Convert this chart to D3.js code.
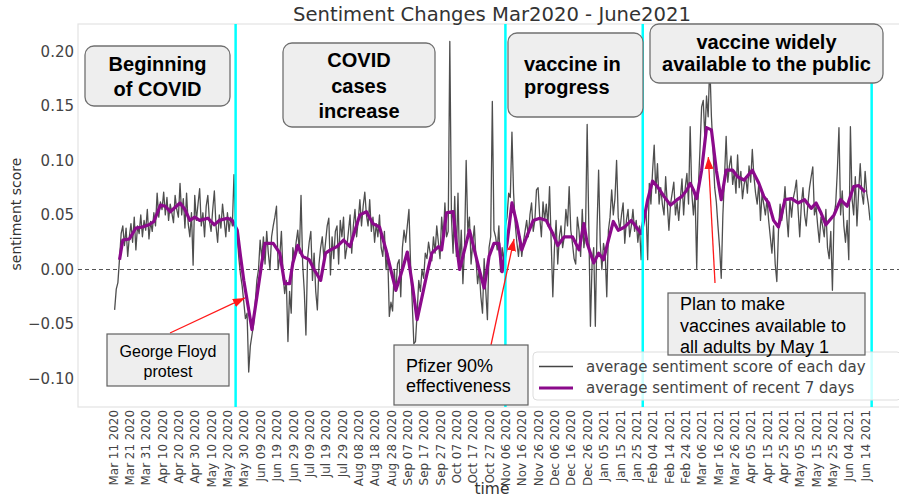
<!DOCTYPE html>
<head>
  <meta charset="utf-8">
  <style>
    body { margin: 0; background: #fff; }
    .axis path, .axis line { display: none; }
    .axis text { font-family: "DejaVu Sans", sans-serif; fill: #444; }
    .box-text { font-family: "Liberation Sans", Arial, sans-serif; fill: #000; }
  </style>
  <script src="https://cdn.jsdelivr.net/npm/d3@7"></script>
</head>
<body>
<script>
  // day 0 = Mar 11 2020, the daily series starts on day 1
  const originDay = '2020-03-11';
  const firstDay = 1;

  const dailyScore = [
    -0.037,-0.018,-0.012,0.010,0.033,0.040,0.022,0.038,0.012,0.030,
    0.042,0.025,0.048,0.018,0.040,0.033,0.050,0.030,0.045,0.036,
    0.055,0.028,0.044,0.035,0.052,0.040,0.070,0.048,0.062,0.055,
    0.071,0.050,0.066,0.045,0.060,0.052,0.043,0.068,0.055,0.048,
    0.079,0.050,0.065,0.038,0.070,0.042,0.030,0.052,0.004,0.068,
    0.045,0.060,0.074,0.040,0.052,0.030,0.058,0.068,0.044,0.035,
    0.055,0.072,0.040,0.025,0.050,0.038,0.060,0.045,0.030,0.052,
    0.035,0.048,0.040,0.087,0.035,0.030,0.010,-0.005,-0.015,-0.030,
    -0.045,-0.040,-0.094,-0.070,-0.060,-0.050,-0.030,-0.010,0.000,0.027,
    0.010,0.030,0.005,0.035,0.015,0.000,0.030,0.040,0.048,0.058,
    0.000,0.012,0.035,-0.005,-0.022,-0.010,-0.066,-0.020,-0.040,0.020,
    0.010,0.025,0.036,0.015,0.068,0.005,-0.020,-0.060,0.010,0.025,
    0.035,-0.010,0.015,-0.020,-0.037,0.005,0.020,0.030,0.010,0.025,
    0.040,0.047,-0.005,0.030,0.010,0.035,0.040,0.005,0.045,0.030,
    0.048,0.010,0.020,0.035,0.050,0.015,0.040,0.055,0.030,0.045,
    0.064,0.040,0.058,0.071,0.050,0.040,0.064,0.035,0.048,0.025,
    0.042,0.030,0.050,0.020,0.012,0.035,0.000,0.015,-0.043,-0.030,
    -0.038,0.000,-0.020,0.005,0.009,-0.025,0.020,0.036,0.025,0.040,
    0.055,0.005,-0.030,-0.068,-0.066,-0.040,-0.010,-0.020,0.000,-0.008,
    0.015,0.010,0.025,0.015,0.008,0.030,0.015,0.040,0.025,0.010,
    0.048,0.028,0.061,0.030,0.035,0.209,0.048,0.015,0.067,0.012,
    0.070,0.000,0.036,-0.013,0.020,0.100,0.035,0.048,0.005,0.024,
    0.040,0.010,-0.013,0.000,-0.025,-0.040,0.010,-0.020,-0.046,0.020,
    0.030,0.154,0.036,0.030,0.018,0.040,-0.002,0.020,0.005,0.040,
    0.048,0.070,0.066,0.126,0.070,0.042,0.025,0.012,0.030,0.012,
    0.025,0.035,0.045,0.030,0.050,0.061,0.035,0.045,0.073,0.075,
    0.048,0.030,0.062,0.045,0.060,0.040,0.076,0.025,-0.025,0.020,
    0.045,0.005,0.030,0.040,0.020,0.030,0.055,0.040,0.076,0.036,
    0.024,0.010,0.005,0.048,0.036,0.012,0.055,0.020,0.035,0.133,
    0.040,-0.052,0.005,0.020,-0.052,0.036,0.091,0.024,0.000,0.024,
    0.015,-0.025,0.036,0.048,0.073,0.050,0.065,0.100,0.048,0.036,
    0.050,0.061,0.024,0.045,0.055,0.030,0.040,0.055,0.035,0.045,
    0.025,0.040,0.009,0.040,0.048,0.055,0.009,0.079,0.060,0.090,
    0.114,0.070,0.097,0.060,0.075,0.060,0.050,0.085,0.060,0.036,
    0.060,0.070,0.080,0.050,0.062,0.045,0.065,0.083,0.050,0.075,
    0.088,0.060,0.131,0.070,0.050,0.070,0.001,0.075,0.110,0.149,
    0.155,0.120,0.159,0.140,0.190,0.140,0.110,0.075,0.062,0.040,
    0.020,-0.008,0.050,0.085,0.122,0.080,0.095,0.104,0.078,0.090,
    0.070,0.105,0.075,0.090,0.065,0.078,0.085,0.070,0.095,0.080,
    0.110,0.085,0.070,0.060,0.080,0.045,0.070,0.060,0.050,0.065,
    0.045,0.030,0.015,0.040,0.005,-0.011,0.035,0.060,0.045,0.055,
    0.076,0.050,0.030,0.065,0.048,0.065,0.072,0.082,0.055,0.030,
    0.060,0.075,0.050,0.040,0.060,0.075,0.085,0.094,0.050,0.058,
    0.040,0.025,0.048,0.040,0.030,0.055,0.020,0.010,0.035,-0.019,
    0.050,0.060,0.090,0.130,0.050,0.072,0.040,0.025,0.045,0.009,
    0.131,0.065,0.050,0.085,0.040,0.070,0.097,0.070,0.060,0.090,
    0.070,0.060,0.045
  ];

  // 7-day average: [day after origin, value]
  const weeklyAvg = [
    [4,0.009],[6,0.027],[10,0.028],[14,0.038],[18,0.039],[22,0.041],[25,0.044],[29,0.059],
    [32,0.058],[35,0.053],[41,0.061],[44,0.055],[47,0.045],[50,0.048],[53,0.045],[58,0.047],
    [62,0.041],[65,0.045],[70,0.047],[73,0.045],[76,0.036],[78,0.012],[80,-0.010],[82,-0.028],
    [85,-0.055],[88,-0.025],[91,0.006],[93,0.024],[98,0.024],[102,0.015],[105,-0.013],[108,-0.013],
    [110,0.006],[113,0.022],[116,0.012],[120,0.009],[123,0.000],[127,-0.010],[130,0.015],[133,0.018],
    [137,0.021],[141,0.027],[145,0.021],[148,0.036],[151,0.050],[155,0.053],[159,0.042],[163,0.039],
    [167,0.018],[171,-0.007],[173,-0.019],[177,0.000],[180,0.016],[183,-0.013],[186,-0.046],[189,-0.025],
    [192,-0.004],[195,0.015],[199,0.021],[201,0.018],[204,0.052],[208,0.053],[210,0.024],[212,0.000],
    [215,0.018],[218,0.036],[221,0.018],[224,0.000],[227,-0.017],[230,0.012],[233,0.024],[236,0.024],
    [238,-0.002],[241,0.024],[244,0.061],[247,0.042],[250,0.018],[253,0.030],[257,0.045],[261,0.047],
    [265,0.045],[269,0.033],[272,0.022],[276,0.030],[281,0.030],[285,0.018],[288,0.042],[290,0.024],
    [294,0.006],[297,0.015],[300,0.009],[303,0.027],[306,0.044],[309,0.036],[313,0.039],[317,0.045],
    [320,0.039],[323,0.033],[325,0.048],[327,0.064],[330,0.081],[333,0.076],[337,0.067],[341,0.059],
    [345,0.064],[348,0.067],[351,0.073],[353,0.079],[355,0.073],[357,0.065],[360,0.091],[363,0.130],
    [366,0.128],[369,0.091],[372,0.064],[375,0.091],[379,0.091],[382,0.085],[386,0.082],[391,0.091],
    [395,0.079],[398,0.067],[401,0.061],[404,0.045],[407,0.039],[411,0.064],[415,0.065],[419,0.061],
    [423,0.064],[427,0.056],[430,0.061],[433,0.052],[436,0.041],[441,0.050],[445,0.064],[449,0.058],
    [453,0.076],[456,0.077],[460,0.071]
  ];

  const tickFirst = '2020-03-11';
  const tickLast = '2021-06-14';
  const yTicks = [-0.10, -0.05, 0.00, 0.05, 0.10, 0.15, 0.20];
  const eventDates = ['2020-05-25', '2020-11-06', '2021-01-29', '2021-06-18'];
  const legendLabels = ['average sentiment score of each day', 'average sentiment of recent 7 days'];

  const periodLabels = [
    ['Beginning', 'of COVID'],
    ['COVID', 'cases', 'increase'],
    ['vaccine in', 'progress'],
    ['vaccine widely', 'available to the public']
  ];
  const noteLabels = [
    ['George Floyd', 'protest'],
    ['Pfizer 90%', 'effectiveness'],
    ['Plan to make', 'vaccines available to', 'all adults by May 1']
  ];
  // where each note arrow points: [day after origin, score]
  const noteTargets = [[80.7, -0.026], [245.3, 0.028], [364.1, 0.103]];

  // layout (pixels)
  const w = 899, h = 497;
  const plotL = 78, plotR = 906, plotT = 24, plotB = 407;

  const periodLayout = [
    {x: 85, y: 46, w: 145, h: 60, anchor: 'middle', tx: 157.5, base: [71, 96]},
    {x: 283, y: 43, w: 152, h: 84, anchor: 'middle', tx: 359, base: [67, 93, 118]},
    {x: 508, y: 33, w: 135, h: 84, anchor: 'start', tx: 524, base: [71, 94]},
    {x: 650, y: 24, w: 233, h: 59, anchor: 'middle', tx: 766.5, base: [49, 71]}
  ];
  const noteLayout = [
    {x: 107, y: 334, w: 122, h: 52, anchor: 'middle', tx: 168, base: [357, 377], size: 16, from: [170, 333]},
    {x: 394, y: 345, w: 134, h: 60, anchor: 'start', tx: 406, base: [372, 392], size: 18, from: [491, 345]},
    {x: 668, y: 293, w: 197, h: 62, anchor: 'start', tx: 680, base: [310, 332, 353], size: 18, from: [715, 283]}
  ];

  const parseDay = d3.utcParse('%Y-%m-%d');
  const origin = parseDay(originDay);
  const dayToDate = (d) => new Date(origin.getTime() + d * 864e5);

  const daily = dailyScore.map((v, i) => ({date: dayToDate(firstDay + i), v: v}));
  const avg = weeklyAvg.map((p) => ({date: dayToDate(p[0]), v: p[1]}));

  const svg = d3.select('body').append('svg')
        .attr('width', w)
        .attr('height', h);

  const xScale = d3.scaleUtc()
        .domain([dayToDate(-21.4), dayToDate(485)])
        .range([plotL, plotR]);

  const yScale = d3.scaleLinear()
        .domain([-0.126, 0.225])
        .range([plotB, plotT]);

  // frame
  svg.append('rect')
     .attr('x', plotL).attr('y', plotT)
     .attr('width', plotR - plotL).attr('height', plotB - plotT)
     .attr('fill', 'none')
     .attr('stroke', '#e3e3e3')
     .attr('stroke-width', 1.2);

  // zero line
  svg.append('line')
     .attr('x1', plotL).attr('x2', plotR)
     .attr('y1', yScale(0)).attr('y2', yScale(0))
     .attr('stroke', '#555')
     .attr('stroke-width', 1.1)
     .attr('stroke-dasharray', '4,3');

  const line = d3.line()
        .x((d) => xScale(d.date))
        .y((d) => yScale(d.v));

  svg.append('path')
     .datum(daily)
     .attr('d', line)
     .attr('fill', 'none')
     .attr('stroke', '#222')
     .attr('stroke-opacity', 0.8)
     .attr('stroke-width', 1.3)
     .attr('stroke-linejoin', 'round');

  svg.append('path')
     .datum(avg)
     .attr('d', line)
     .attr('fill', 'none')
     .attr('stroke', '#8b0a8b')
     .attr('stroke-width', 3.2)
     .attr('stroke-linejoin', 'round');

  // x axis, a tick every 10 days
  const tickDates = d3.utcDay.range(parseDay(tickFirst), d3.utcDay.offset(parseDay(tickLast), 1), 10);
  const xAxis = d3.axisBottom(xScale)
        .tickValues(tickDates)
        .tickSize(0)
        .tickFormat(d3.utcFormat('%b %d %Y'));

  svg.append('g')
     .attr('class', 'x axis')
     .attr('transform', `translate(0, ${plotB})`)
     .call(xAxis)
     .selectAll('text')
       .attr('font-size', '11.9px')
       .attr('transform', 'rotate(-90)')
       .attr('text-anchor', 'end')
       .attr('x', -3)
       .attr('y', 0)
       .attr('dy', '0.35em');

  const yAxis = d3.axisLeft(yScale)
        .tickValues(yTicks)
        .tickSize(0)
        .tickPadding(4)
        .tickFormat(d3.format('.2f'));

  svg.append('g')
     .attr('class', 'y axis')
     .attr('transform', `translate(${plotL}, 0)`)
     .call(yAxis)
     .selectAll('text')
       .attr('font-size', '15px');

  // event lines
  svg.selectAll('.event')
     .data(eventDates)
     .enter()
     .append('line')
     .attr('class', 'event')
     .attr('x1', (d) => xScale(parseDay(d)))
     .attr('x2', (d) => xScale(parseDay(d)))
     .attr('y1', plotT).attr('y2', plotB)
     .attr('stroke', '#00ffff')
     .attr('stroke-width', 2.5);

  // titles
  svg.append('text')
     .attr('x', 492).attr('y', 21)
     .attr('text-anchor', 'middle')
     .attr('font-family', 'DejaVu Sans, sans-serif')
     .attr('font-size', '19.6px')
     .attr('fill', '#333')
     .text('Sentiment Changes Mar2020 - June2021');

  svg.append('text')
     .attr('transform', 'translate(21, 214) rotate(-90)')
     .attr('text-anchor', 'middle')
     .attr('font-family', 'DejaVu Sans, sans-serif')
     .attr('font-size', '14px')
     .attr('fill', '#333')
     .text('sentiment score');

  svg.append('text')
     .attr('x', 492).attr('y', 494)
     .attr('text-anchor', 'middle')
     .attr('font-family', 'DejaVu Sans, sans-serif')
     .attr('font-size', '15.5px')
     .attr('fill', '#333')
     .text('time');

  // legend
  const legend = svg.append('g').attr('class', 'legend');
  legend.append('rect')
     .attr('x', 533).attr('y', 352)
     .attr('width', 368).attr('height', 48)
     .attr('rx', 4)
     .attr('fill', '#fff')
     .attr('fill-opacity', 0.8)
     .attr('stroke', '#ddd');

  const legendStyle = [{stroke: '#444', width: 1.3}, {stroke: '#8b0a8b', width: 3.2}];
  legendLabels.forEach((label, i) => {
    const ly = 366.5 + i * 21.5;
    legend.append('line')
       .attr('x1', 539).attr('x2', 573)
       .attr('y1', ly).attr('y2', ly)
       .attr('stroke', legendStyle[i].stroke)
       .attr('stroke-width', legendStyle[i].width);
    legend.append('text')
       .attr('x', 586).attr('y', ly + 5)
       .attr('font-family', 'DejaVu Sans, sans-serif')
       .attr('font-size', '15px')
       .attr('fill', '#444')
       .text(label);
  });

  // arrows
  svg.append('defs').append('marker')
     .attr('id', 'head')
     .attr('markerUnits', 'userSpaceOnUse')
     .attr('markerWidth', 13).attr('markerHeight', 10)
     .attr('refX', 12).attr('refY', 4.5)
     .attr('orient', 'auto')
     .append('path')
     .attr('d', 'M0,0 L12,4.5 L0,9 z')
     .attr('fill', '#ff1a1a');

  noteLayout.forEach((b, i) => {
    svg.append('line')
       .attr('x1', b.from[0]).attr('y1', b.from[1])
       .attr('x2', xScale(dayToDate(noteTargets[i][0])))
       .attr('y2', yScale(noteTargets[i][1]))
       .attr('stroke', '#ff1a1a')
       .attr('stroke-width', 1.3)
       .attr('marker-end', 'url(#head)');
  });

  // period boxes
  periodLayout.forEach((b, i) => {
    svg.append('rect')
       .attr('x', b.x).attr('y', b.y)
       .attr('width', b.w).attr('height', b.h)
       .attr('rx', 9)
       .attr('fill', '#eeeeee')
       .attr('stroke', '#707070')
       .attr('stroke-width', 1.3);
    periodLabels[i].forEach((t, j) => {
      svg.append('text')
         .attr('class', 'box-text')
         .attr('x', b.tx).attr('y', b.base[j])
         .attr('text-anchor', b.anchor)
         .attr('font-size', '20px')
         .attr('font-weight', 'bold')
         .text(t);
    });
  });

  // note boxes
  noteLayout.forEach((b, i) => {
    svg.append('rect')
       .attr('x', b.x).attr('y', b.y)
       .attr('width', b.w).attr('height', b.h)
       .attr('fill', '#eeeeee')
       .attr('stroke', '#606060')
       .attr('stroke-width', 1.2);
    noteLabels[i].forEach((t, j) => {
      svg.append('text')
         .attr('class', 'box-text')
         .attr('x', b.tx).attr('y', b.base[j])
         .attr('text-anchor', b.anchor)
         .attr('font-size', b.size + 'px')
         .text(t);
    });
  });
</script>
</body>
